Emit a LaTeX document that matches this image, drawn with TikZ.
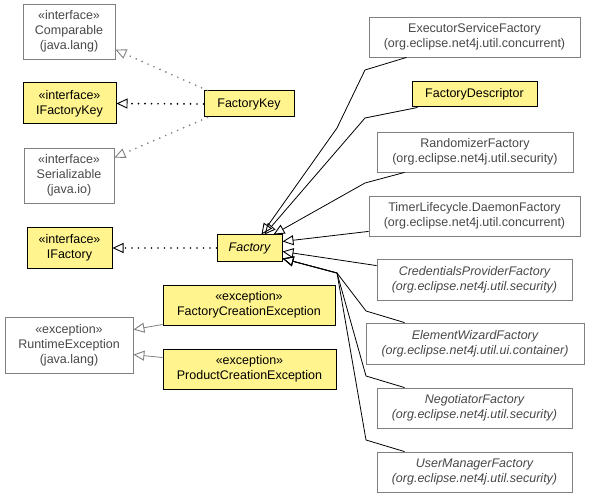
\documentclass[tikz,border=0pt]{standalone}
\usepackage{fontspec}
\setmainfont{Liberation Sans}
\usepackage{tikz}
\usetikzlibrary{calc,arrows.meta}
\definecolor{classyellow}{RGB}{255,244,142}
\definecolor{extgray}{RGB}{128,128,128}
\definecolor{exttext}{RGB}{72,72,72}
\tikzset{>={Triangle[open,length=11pt,width=10pt,line width=0.9pt]}}
\tikzset{
  own/.style={draw=black,line width=1pt,fill=classyellow,inner sep=0pt,align=center},
  ext/.style={draw=extgray,line width=0.8pt,fill=white,text=exttext,inner sep=0pt,align=center},
  realize/.style={->,line width=1.9pt,line cap=round,dash pattern=on 0pt off 6.5pt},
  extend/.style={->,line width=0.8pt}
}

\begin{document}
\begin{tikzpicture}[x=1pt,y=-1pt,every node/.style={font=\fontsize{12.5}{14.8}\selectfont}]
    \useasboundingbox (0,0) rectangle (589,497);
    % left column
    \node[ext,minimum width=92,minimum height=55] (comparable) at (69,31.5) {«interface»\\Comparable\\(java.lang)};
    \node[own,minimum width=93,minimum height=41] (ifactorykey) at (69.5,103.5) {«interface»\\IFactoryKey};
    \node[ext,minimum width=90,minimum height=55] (serializable) at (69,175.5) {«interface»\\Serializable\\(java.io)};
    \node[own,minimum width=85,minimum height=40] (ifactory) at (69.5,248) {«interface»\\IFactory};
    \node[ext,minimum width=128,minimum height=56] (runtime) at (69,345) {«exception»\\RuntimeException\\(java.lang)};
    % middle column
    \node[own,minimum width=90,minimum height=26] (factorykey) at (249,104) {FactoryKey};
    \node[own,minimum width=65,minimum height=26] (factory) at (249.5,248) {\itshape Factory};
    \node[own,minimum width=172,minimum height=40] (fce) at (249,305) {«exception»\\FactoryCreationException};
    \node[own,minimum width=173,minimum height=40] (pce) at (249.5,369) {«exception»\\ProductCreationException};
    % right column
    \node[ext,minimum width=211,minimum height=40] (esf) at (474.5,37) {ExecutorServiceFactory\\(org.eclipse.net4j.util.concurrent)};
    \node[own,minimum width=125,minimum height=25] (fdesc) at (474.5,94.5) {FactoryDescriptor};
    \node[ext,minimum width=196,minimum height=40] (rand) at (475,152) {RandomizerFactory\\(org.eclipse.net4j.util.security)};
    \node[ext,minimum width=211,minimum height=40] (timer) at (474.5,216) {TimerLifecycle.DaemonFactory\\(org.eclipse.net4j.util.concurrent)};
    \node[ext,minimum width=195,minimum height=41,font=\fontsize{12.5}{14.8}\selectfont\itshape] (cred) at (474.5,279.5) {CredentialsProviderFactory\\(org.eclipse.net4j.util.security)};
    \node[ext,minimum width=218,minimum height=41,font=\fontsize{12.5}{14.8}\selectfont\itshape] (elem) at (475,343.5) {ElementWizardFactory\\(org.eclipse.net4j.util.ui.container)};
    \node[ext,minimum width=195,minimum height=40,font=\fontsize{12.5}{14.8}\selectfont\itshape] (nego) at (474.5,408) {NegotiatorFactory\\(org.eclipse.net4j.util.security)};
    \node[ext,minimum width=195,minimum height=40,font=\fontsize{12.5}{14.8}\selectfont\itshape] (user) at (474.5,472) {UserManagerFactory\\(org.eclipse.net4j.util.security)};

    \draw[realize,extgray] ($(factorykey.north west)+(4,0)$) -- ($(comparable.north east)+(0,46)$);
    \draw[realize] (factorykey.west) -- (ifactorykey.east);
    \draw[realize,extgray] ($(factorykey.south west)+(4,0)$) -- ($(serializable.north east)+(0,10)$);
    \draw[realize] (factory.west) -- (ifactory.east);
    \draw[extend,extgray] ($(fce.south west)+(0,-1)$) -- ($(runtime.north east)+(0,13)$);
    \draw[extend,extgray] ($(pce.north west)+(0,9)$) -- ($(runtime.north east)+(0,38)$);

    \draw[extend] ($(esf.south west)+(38,0)$) -- (365,70) -- (337,128) -- ($(factory.north west)+(45,0)$);
    \draw[extend] ($(fdesc.south west)+(6,0)$) -- (365,118) -- ($(factory.north west)+(48,0)$);
    \draw[extend] ($(rand.south west)+(28,0)$) -- (365,183) -- ($(factory.north west)+(57,0)$);
    \draw[extend] ($(timer.south west)+(0,-5)$) -- ($(factory.north east)+(0,7)$);
    \draw[extend] ($(cred.north west)+(0,7)$) -- ($(factory.north east)+(0,17)$);
    \draw[extend] ($(elem.north west)+(39,0)$) -- (366,311) -- (337,273) -- ($(factory.north east)+(0,24)$);
    \draw[extend] ($(nego.north west)+(28,0)$) -- (366,376) -- (337,273) -- ($(factory.north east)+(0,24)$);
    \draw[extend] ($(user.north west)+(28,0)$) -- (366,440) -- (337,273) -- ($(factory.north east)+(0,24)$);
\end{tikzpicture}
\end{document}
